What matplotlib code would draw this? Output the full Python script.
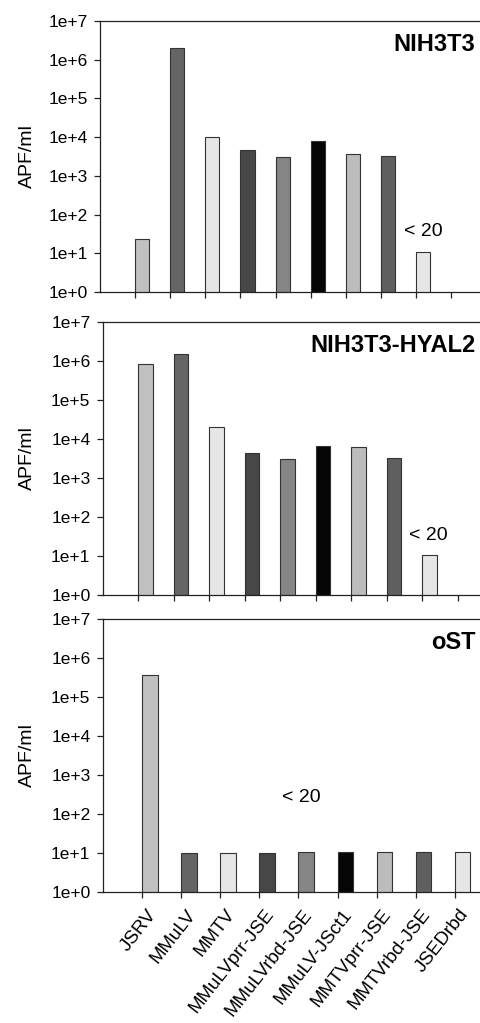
import matplotlib
matplotlib.use("Agg")
import matplotlib.pyplot as plt
from matplotlib.transforms import ScaledTranslation

plt.rcParams["font.family"] = ["Liberation Sans", "DejaVu Sans"]

# Категории и значения (APF/ml)
categories = ["JSRV", "MMuLV", "MMTV", "MMuLVprr-JSE", "MMuLVrbd-JSE",
              "MMuLV-JSct1", "MMTVprr-JSE", "MMTVrbd-JSE", "JSEDrbd"]
nih3t3 = [24, 2.0e6, 1.0e4, 4.7e3, 3.1e3, 7.8e3, 3.7e3, 3.25e3, 11]
nih3t3_hyal2 = [8.5e5, 1.5e6, 2.0e4, 4.5e3, 3.1e3, 6.6e3, 6.2e3, 3.2e3, 10.7]
ost = [3.6e5, 10, 10, 10.2, 10.3, 10.4, 10.5, 10.6, 10.7]
bar_colors = ["#c0c0c0", "#656565", "#e6e6e6", "#474747", "#858585",
              "#050505", "#bcbcbc", "#5f5f5f", "#e6e6e6"]
ytick_labels = ["1e+0", "1e+1", "1e+2", "1e+3", "1e+4", "1e+5", "1e+6", "1e+7"]

W, H = 481, 1023
fig = plt.figure(figsize=(W / 100, H / 100), dpi=100)

# (left_px, top_px, bottom_px, xmax, n_ticks, title, note_xy, values)
panels = [
    (100, 21, 292, 10.85, 10, "NIH3T3", (404, 232), nih3t3),
    (103, 322, 595, 10.65, 10, "NIH3T3-HYAL2", (409, 535), nih3t3_hyal2),
    (103, 619, 892, 9.67, 9, "oST", (282, 797), ost),
]


def draw_panel(left, top, bottom, xmax, n_ticks, title, note_xy, values, last):
    ax = fig.add_axes([left / W, 1 - bottom / H, (W - left) / W, (bottom - top) / H])
    ax.set_yscale("log")
    x = list(range(1, len(values) + 1))
    ax.bar(x, values, width=0.4, align="edge", color=bar_colors,
           edgecolor="#333333", linewidth=0.8)
    ax.set_ylim(1, 1e7)
    ax.set_xlim(0, xmax)
    ax.set_yticks([10 ** i for i in range(8)])
    ax.set_yticklabels(ytick_labels)
    ax.minorticks_off()
    ax.set_xticks(range(1, n_ticks + 1))
    ax.tick_params(axis="both", direction="out", length=4, width=0.9,
                   labelsize=12.5, pad=5, color="#222222")
    if last:
        ax.set_xticklabels(categories, rotation=52, ha="right", va="center",
                           rotation_mode="anchor", fontsize=13.5)
        ax.tick_params(axis="x", pad=10)
        shift = ScaledTranslation(0.11, 0, fig.dpi_scale_trans)
        for lab in ax.get_xticklabels():
            lab.set_transform(lab.get_transform() + shift)
    else:
        ax.set_xticklabels([])
    ax.spines["right"].set_visible(False)
    for s in ["left", "top", "bottom"]:
        ax.spines[s].set_linewidth(0.9)
        ax.spines[s].set_color("#222222")
    ax.text(0.985, 0.915, title, transform=ax.transAxes, ha="right",
            va="center", fontsize=17, fontweight="bold")
    fig.text(note_xy[0] / W, 1 - note_xy[1] / H, "< 20", ha="left",
             va="center", fontsize=14)
    fig.text(27 / W, 1 - (top + bottom) / 2 / H, "APF/ml", rotation=90,
             ha="center", va="center", fontsize=14)


for i, p in enumerate(panels):
    draw_panel(*p, last=(i == len(panels) - 1))

fig.savefig("out.png", dpi=100)
